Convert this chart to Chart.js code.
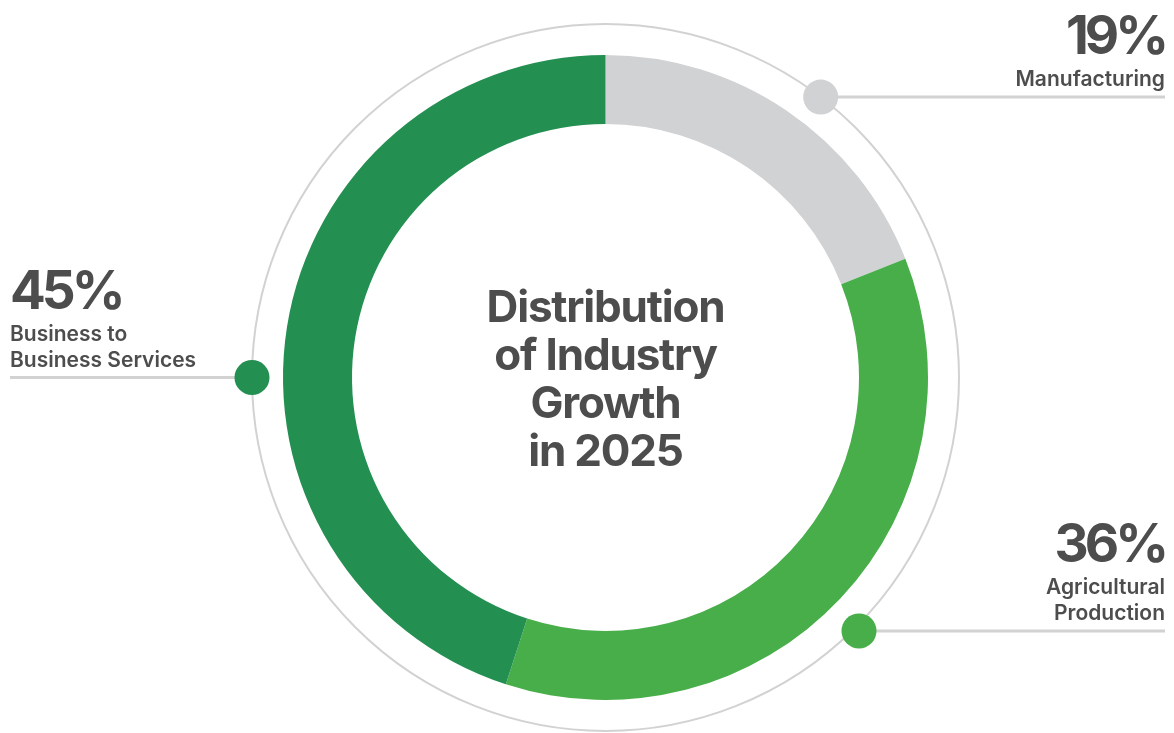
<!DOCTYPE html>
<html>
<head>
<meta charset="utf-8">
<script src="https://cdn.jsdelivr.net/npm/chart.js@4/dist/chart.umd.min.js"></script>
<style>
    html, body { margin: 0; padding: 0; background: #ffffff; }
    #industryChart { display: block; }
</style>
</head>
<body>
<canvas id="industryChart" width="1174" height="733"></canvas>
<script>
// Industry growth shares (percent), drawn clockwise from 12 o'clock
const categories = ['Manufacturing', 'Agricultural Production', 'Business to Business Services'];
const shares = [19, 36, 45];
const labelLines = [['Manufacturing'], ['Agricultural', 'Production'], ['Business to', 'Business Services']];
const titleLines = ['Distribution', 'of Industry', 'Growth', 'in 2025'];

const SEGMENT_COLORS = ['#d1d2d4', '#48ae4a', '#238f51'];
const TEXT_COLOR = '#4d4d4d';
const GUIDE_COLOR = '#d2d2d2';
const FONT = 'Inter, "Noto Sans", sans-serif';

// Callout dots: angle on the guide ring (degrees clockwise from top), extra radial push, label side
const CALLOUTS = [
    { angle: 37.5, push: 0, side: 'right' },
    { angle: 135, push: 5, side: 'right' },
    { angle: 270, push: 0, side: 'left' }
];

// Thin guide ring, callout dots, leader lines, labels and centre title
const annotationPlugin = {
    id: 'annotations',
    beforeDatasetsDraw(chart) {
        const arc = chart.getDatasetMeta(0).data[0];
        const ctx = chart.ctx;
        ctx.save();
        ctx.beginPath();
        ctx.arc(arc.x, arc.y, arc.outerRadius + 31, 0, Math.PI * 2);
        ctx.strokeStyle = GUIDE_COLOR;
        ctx.lineWidth = 2;
        ctx.stroke();
        ctx.restore();
    },
    afterDraw(chart) {
        const arc = chart.getDatasetMeta(0).data[0];
        const ctx = chart.ctx;
        const cx = arc.x;
        const cy = arc.y;
        const ringR = arc.outerRadius + 31;
        const leftX = 10;
        const rightX = chart.width - 9;

        ctx.save();
        CALLOUTS.forEach((c, i) => {
            const a = c.angle * Math.PI / 180;
            const r = ringR + c.push;
            const dx = cx + r * Math.sin(a);
            const dy = cy - r * Math.cos(a);

            // leader line
            ctx.beginPath();
            ctx.moveTo(c.side === 'right' ? dx : leftX, dy);
            ctx.lineTo(c.side === 'right' ? rightX : dx, dy);
            ctx.strokeStyle = GUIDE_COLOR;
            ctx.lineWidth = 3;
            ctx.stroke();

            // dot
            ctx.beginPath();
            ctx.arc(dx, dy, 17.5, 0, Math.PI * 2);
            ctx.fillStyle = SEGMENT_COLORS[i];
            ctx.fill();

            // category name, bottom line sits just above the leader
            const tx = c.side === 'right' ? rightX : leftX;
            ctx.textAlign = c.side === 'right' ? 'right' : 'left';
            ctx.textBaseline = 'alphabetic';
            ctx.fillStyle = TEXT_COLOR;
            ctx.font = '600 21px ' + FONT;
            ctx.letterSpacing = '0px';
            const lines = labelLines[i];
            let base = dy - 11;
            for (let k = lines.length - 1; k >= 0; k--) {
                ctx.fillText(lines[k], tx, base);
                if (k > 0) base -= 26;
            }

            // share value
            ctx.font = '700 53px ' + FONT;
            ctx.letterSpacing = '-4px';
            ctx.fillText(shares[i] + '%', tx, base - 32);
        });

        // centre title
        ctx.textAlign = 'center';
        ctx.font = '700 44px ' + FONT;
        ctx.letterSpacing = '-1.2px';
        ctx.fillStyle = TEXT_COLOR;
        const first = cy - 56;
        titleLines.forEach((line, k) => {
            ctx.fillText(line, cx, first + k * 48);
        });
        ctx.restore();
    }
};

const ctx = document.getElementById('industryChart').getContext('2d');
const industryChart = new Chart(ctx, {
    type: 'doughnut',
    data: {
        labels: categories,
        datasets: [{
            data: shares,
            backgroundColor: SEGMENT_COLORS,
            borderWidth: 0,
            hoverOffset: 0
        }]
    },
    options: {
        responsive: false,
        animation: false,
        cutout: '78.6%',
        rotation: 0,
        layout: {
            padding: { left: 283, right: 246, top: 55, bottom: 33 }
        },
        plugins: {
            legend: { display: false },
            tooltip: { enabled: false }
        }
    },
    plugins: [annotationPlugin]
});
</script>
</body>
</html>
